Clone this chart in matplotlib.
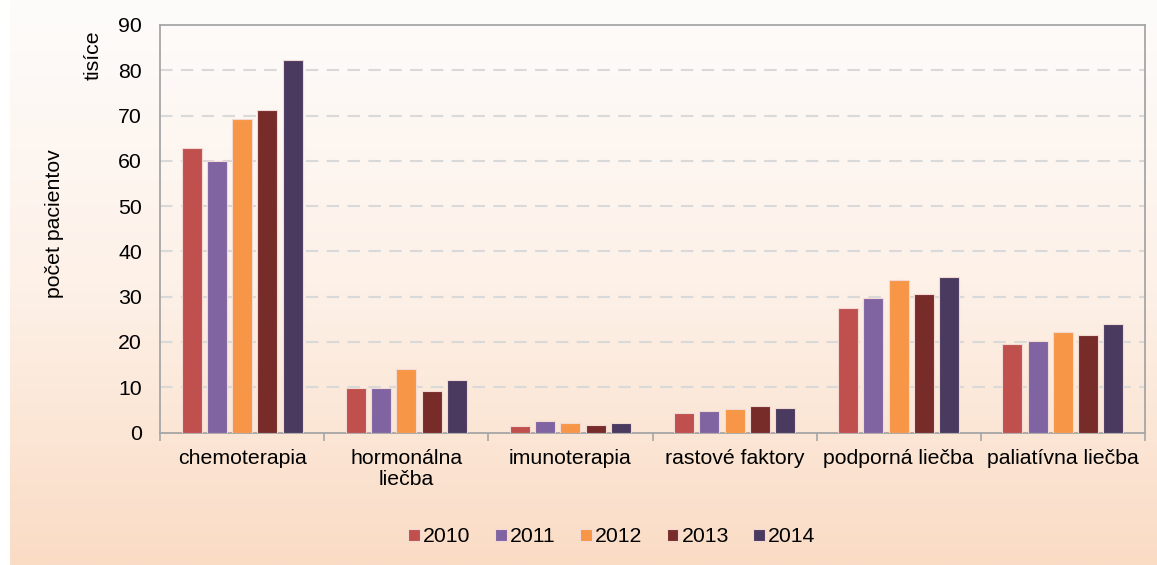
import numpy as np
import matplotlib
matplotlib.use("Agg")
import matplotlib.pyplot as plt
from matplotlib.colors import LinearSegmentedColormap

plt.rcParams["font.family"] = ["Liberation Sans", "DejaVu Sans"]

CATEGORIES = [
    "chemoterapia",
    "hormonálna\nliečba",
    "imunoterapia",
    "rastové faktory",
    "podporná liečba",
    "paliatívna liečba",
]

YEARS = ["2010", "2011", "2012", "2013", "2014"]

VALUES_2010 = [62.9, 9.8, 1.5, 4.2, 27.4, 19.6]
VALUES_2011 = [59.9, 9.8, 2.5, 4.75, 29.8, 20.2]
VALUES_2012 = [69.2, 13.95, 2.0, 5.25, 33.7, 22.2]
VALUES_2013 = [71.2, 9.2, 1.65, 5.9, 30.6, 21.6]
VALUES_2014 = [82.2, 11.6, 2.1, 5.4, 34.4, 23.9]

COLORS = ["#C0504D", "#8064A2", "#F79646", "#772C2A", "#4B3A60"]

FS = 15.3


def main():
    fig = plt.figure(figsize=(11.57, 5.65), dpi=100)

    # background gradient
    bg = fig.add_axes([10 / 1157, 0, 1 - 10 / 1157, 1], zorder=-10)
    cmap = LinearSegmentedColormap.from_list("bg", ["#FEFCFB", "#FDF1E8", "#FADCC5"])
    grad = np.linspace(0, 1, 256).reshape(-1, 1)
    bg.imshow(grad, aspect="auto", cmap=cmap, extent=[0, 1, 0, 1], origin="upper")
    bg.axis("off")

    left, right = 160 / 1157, 1145 / 1157
    bottom, top = 1 - 432.5 / 565, 1 - 25 / 565
    ax = fig.add_axes([left, bottom, right - left, top - bottom])
    ax.patch.set_alpha(0)

    series = [VALUES_2010, VALUES_2011, VALUES_2012, VALUES_2013, VALUES_2014]
    x = np.arange(len(CATEGORIES))
    pitch = 0.154
    width = 0.122
    for i, (year, vals) in enumerate(zip(YEARS, series)):
        ax.bar(
            x + (i - 2) * pitch,
            vals,
            width=width,
            color=COLORS[i],
            edgecolor="#F3D9D3",
            linewidth=0.8,
            label=year,
            zorder=3,
        )

    ax.set_xlim(-0.5, len(CATEGORIES) - 0.5)
    ax.set_ylim(0, 90)
    ax.set_yticks(range(0, 91, 10))
    ax.tick_params(axis="y", length=0, labelsize=FS, pad=13)

    ax.set_xticks(x)
    ax.set_xticklabels(CATEGORIES, fontsize=FS, linespacing=1.1)
    ax.tick_params(axis="x", length=0, pad=12)
    ax.set_xticks(np.arange(-0.5, len(CATEGORIES)), minor=True)
    ax.tick_params(axis="x", which="minor", length=6, width=1.2, color="#A6A6A6")

    for y in range(10, 90, 10):
        ax.axhline(y, color="#D9D9D9", linewidth=1.5, linestyle=(0, (6, 4)), zorder=1)

    for side in ["left", "bottom", "top", "right"]:
        ax.spines[side].set_color("#A6A6A6")
        ax.spines[side].set_linewidth(1.3)

    fig.text(93 / 1157, 1 - 55 / 565, "tisíce", rotation=90, fontsize=FS,
             ha="center", va="center")
    fig.text(55 / 1157, 1 - 224 / 565, "počet pacientov", rotation=90, fontsize=FS,
             ha="center", va="center")

    fig.legend(
        loc="center",
        bbox_to_anchor=(612 / 1157, 1 - 537 / 565),
        ncol=5,
        frameon=False,
        fontsize=FS,
        handlelength=0.55,
        handleheight=0.55,
        handletextpad=0.15,
        columnspacing=1.15,
    )

    fig.savefig("out.png", dpi=100)
    plt.close(fig)


if __name__ == "__main__":
    main()
